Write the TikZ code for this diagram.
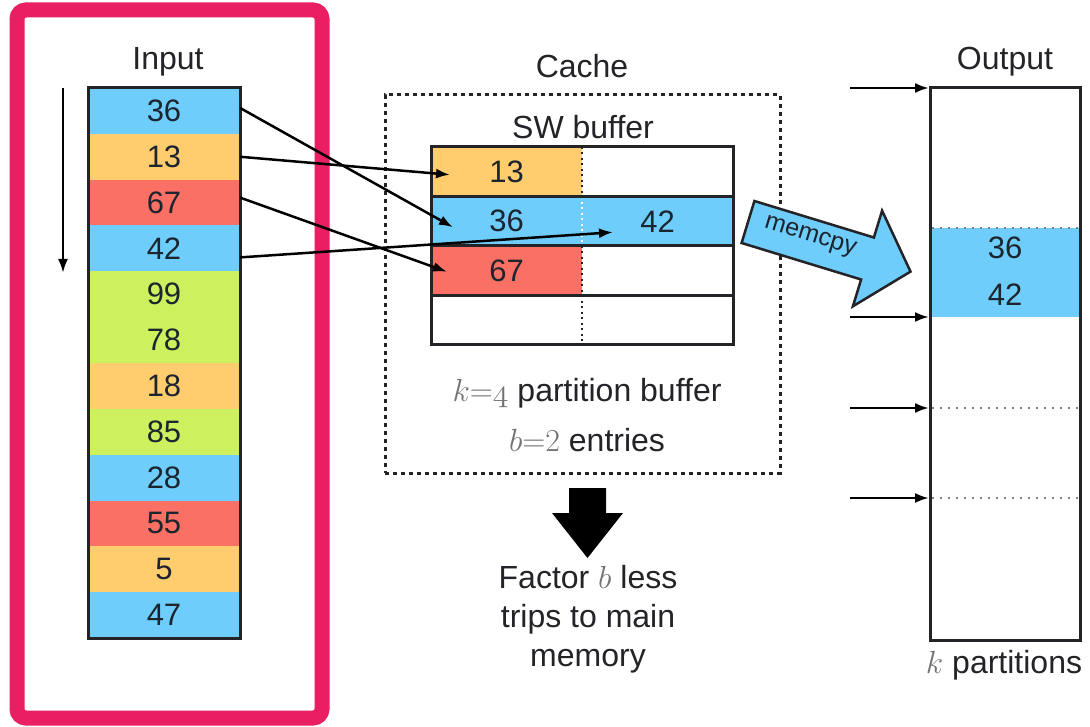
\RequirePackage{fix-cm}
\documentclass[tikz,border=0pt]{standalone}
\usepackage{fontspec}
\setmainfont{Liberation Sans}
\usetikzlibrary{arrows.meta,calc}
\definecolor{cblue}{RGB}{110,205,250}
\definecolor{corange}{RGB}{255,204,110}
\definecolor{cred}{RGB}{250,112,100}
\definecolor{cgreen}{RGB}{205,240,95}
\definecolor{cpink}{RGB}{233,30,99}
\definecolor{ink}{RGB}{35,35,40}
\definecolor{numc}{RGB}{28,36,46}
\definecolor{mgray}{RGB}{115,115,115}
\newcommand\myfont{\fontsize{32}{39}\selectfont}
\newcommand\mynum{\fontsize{31}{36}\selectfont}
\newcommand\mysmall{\fontsize{25}{30}\selectfont}
\begin{document}
\begin{tikzpicture}[x=1pt,y=-1pt,
  lbl/.style={font=\myfont, text=ink, inner sep=0pt},
  cell/.style={minimum width=152pt, minimum height=45.8333pt, inner sep=0pt, outer sep=0pt, font=\mynum, text=numc},
  bcell/.style={minimum width=151pt, minimum height=49.5pt, inner sep=0pt, outer sep=0pt, font=\mynum, text=numc},
  rowline/.style={draw=ink, line width=3pt},
  divdot/.style={line width=2pt, dash pattern=on 2pt off 3.5pt},
  conn/.style={-{Latex[length=14pt,width=10pt]}, line width=2.5pt, draw=black},
  partdot/.style={draw=gray, line width=2.5pt, dash pattern=on 2pt off 6pt}
]
\useasboundingbox (0,0) rectangle (1090,727);
\fill[white] (0,0) rectangle (1090,727);

% pink frame
\draw[cpink, line width=15pt, rounded corners=9pt] (17,10) rectangle (322,718);

% Input column
\node[lbl] (inlabel) at (168,62) {Input};
\foreach \v/\c [count=\i from 0] in {36/cblue,13/corange,67/cred,42/cblue,99/cgreen,78/cgreen,18/corange,85/cgreen,28/cblue,55/cred,5/corange,47/cblue}{
  \node[cell, fill=\c] (in\i) at (164,{88+45.8333*\i+22.9167}) {\v};
}
\draw[line width=3pt, draw=ink] (in0.north west) rectangle (in11.south east);

% scan arrow
\coordinate (scanA) at (63,88);
\coordinate (scanB) at (63,273);
\draw[conn] (scanA) -- (scanB);

% Cache
\node[lbl] (cachelabel) at (582,66) {Cache};
\node[draw=ink, line width=3pt, dash pattern=on 4pt off 4pt, minimum width=395pt, minimum height=378pt, inner sep=0pt] (cache) at (582.5,284) {};
\node[lbl] (swlabel) at (583,127) {SW buffer};

\node[bcell, fill=corange] (b1l) at (506.5,171.75) {13};
\node[bcell] (b1r) at (657.5,171.75) {};
\node[bcell, fill=cblue] (b2l) at (506.5,221.25) {36};
\node[bcell, fill=cblue] (b2r) at (657.5,221.25) {42};
\node[bcell, fill=cred] (b3l) at (506.5,270.75) {67};
\node[bcell] (b3r) at (657.5,270.75) {};
\node[bcell] (b4l) at (506.5,320.25) {};
\node[bcell] (b4r) at (657.5,320.25) {};
\draw[divdot, draw=ink] (b1l.north east) -- (b1l.south east);
\draw[divdot, draw=white] (b2l.north east) -- (b2l.south east);
\draw[divdot, draw=ink] (b3l.north east) -- (b3l.south east);
\draw[divdot, draw=ink] (b4l.north east) -- (b4l.south east);
\draw[rowline] (b1l.north west) rectangle (b1r.south east);
\draw[rowline] (b2l.north west) rectangle (b2r.south east);
\draw[rowline] (b3l.north west) rectangle (b3r.south east);
\draw[rowline] (b4l.north west) rectangle (b4r.south east);

\node[lbl] (kline) at (587,393) {{\color{mgray}$k{=}\mathnormal{4}$} partition buffer};
\node[lbl] (bline) at (587,440) {{\color{mgray}$b{=}2$} entries};

% input -> buffer arrows
\draw[conn] ($(in0.east)+(0,-3)$) -- ($(b2l.west)+(22,6)$);
\draw[conn] ($(in1.east)+(0,0)$) -- ($(b1l.west)+(19,3)$);
\draw[conn] ($(in2.east)+(0,-5)$) -- ($(b3l.west)+(16,1)$);
\draw[conn] ($(in3.east)+(0,9)$) -- ($(b2r.west)+(31,11)$);

% memcpy block arrow
\draw[fill=cblue, draw=ink, line width=2.5pt, line join=miter]
  (754.4,201.0) -- (873.9,237.5) -- (882.1,210.7) -- (910.5,271.6) -- (852.9,306.3) -- (861.1,279.5) -- (741.6,243.0) -- cycle;
\node[font=\mysmall, text=numc, rotate=-17, inner sep=0pt] (memcpy) at (810,237) {memcpy};

% factor arrow
\fill[black] (569,488) -- (606,488) -- (606,513) -- (623,513) -- (587.5,558) -- (552,513) -- (569,513) -- cycle;
\node[lbl, align=center] (factor) at (588,619) {Factor {\color{mgray}$b$} less\\trips to main\\memory};

% Output
\node[lbl] (outlabel) at (1005,62) {Output};
\node[fill=cblue, minimum width=150pt, minimum height=89pt, inner sep=0pt] (outblue) at (1005,272.5) {};
\node[font=\mynum, text=numc, inner sep=0pt] (o36) at (1005,248) {36};
\node[font=\mynum, text=numc, inner sep=0pt] (o42) at (1005,295) {42};
\draw[partdot] (932,228) -- (1078,228);
\draw[partdot] (932,408) -- (1078,408);
\draw[partdot] (932,498) -- (1078,498);
\node[draw=ink, line width=3pt, minimum width=150pt, minimum height=552pt, inner sep=0pt] (out) at (1005,364) {};
\node[lbl] (kpart) at (1004,665) {{\color{mgray}$k$} partitions};

\foreach \y [count=\j] in {88,317,408,498}{
  \coordinate (oa\j) at (850,\y);
  \coordinate (ob\j) at (929,\y);
  \draw[conn] (oa\j) -- (ob\j);
}
\end{tikzpicture}
\end{document}
